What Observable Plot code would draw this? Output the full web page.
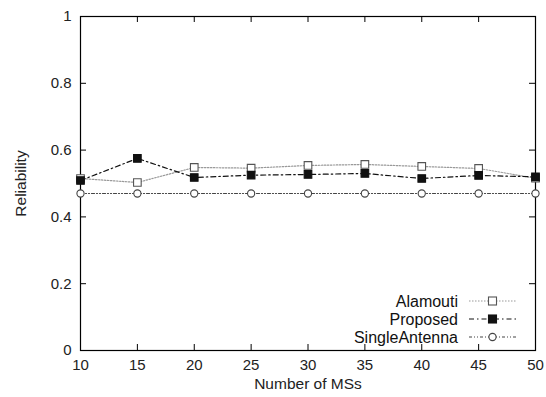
<!DOCTYPE html>
<html><head><meta charset="utf-8">
<script src="https://cdn.jsdelivr.net/npm/d3@7"></script>
<script src="https://cdn.jsdelivr.net/npm/@observablehq/plot@0.6"></script>
<style>body{margin:0;background:#fff;font-family:"Liberation Sans",Arial,sans-serif}</style>
</head><body><div id="chart"></div>
<script>
const ms = [10,15,20,25,30,35,40,45,50];
const alamouti = [0.515,0.503,0.548,0.546,0.554,0.557,0.551,0.545,0.516];
const proposed = [0.509,0.575,0.518,0.525,0.527,0.530,0.515,0.524,0.520];
const single = [0.470,0.470,0.470,0.470,0.470,0.470,0.470,0.470,0.470];
const seriesNames = ["Alamouti","Proposed","SingleAntenna"];
const xTicks = [10,15,20,25,30,35,40,45,50];
const yTicks = [0,0.2,0.4,0.6,0.8,1];

const styles = {
  Alamouti: {stroke:"#999", dash:"1.5,1.5", fill:"white", sym:"square", mstroke:"#555"},
  Proposed: {stroke:"#111", dash:"5,3,1.5,3", fill:"#111", sym:"square", mstroke:"#111"},
  SingleAntenna: {stroke:"#444", dash:"3,2,1,2,1,2", fill:"white", sym:"circle", mstroke:"#444"}
};
const vals = {Alamouti: alamouti, Proposed: proposed, SingleAntenna: single};
const data = seriesNames.flatMap(s => ms.map((m,i) => ({s, x:m, y:vals[s][i]})));

const W=546, H=397, mL=80, mR=11, mT=16, mB=47;
const pw = W-mL-mR, ph = H-mT-mB, tl = 6;

const marks = [
  Plot.frame({stroke:"#000", strokeWidth:1.2}),
  Plot.ruleX(xTicks, {x:d=>d, insetTop: ph-tl, stroke:"#000"}),
  Plot.ruleX(xTicks, {x:d=>d, insetBottom: ph-tl, stroke:"#000"}),
  Plot.ruleY(yTicks, {y:d=>d, insetRight: pw-tl, stroke:"#000"}),
  Plot.ruleY(yTicks, {y:d=>d, insetLeft: pw-tl, stroke:"#000"}),
  Plot.axisX(xTicks, {tickSize:0, tickPadding:9, fontSize:15, label:"Number of MSs", labelAnchor:"center", labelOffset:38, labelArrow:"none"}),
  Plot.axisY(yTicks, {tickSize:0, tickPadding:9, fontSize:15, label:"Reliability", labelAnchor:"center", labelOffset:66, labelArrow:"none", tickFormat:d=>String(d)}),
];
for (const s of seriesNames) {
  const st = styles[s];
  const d = data.filter(r=>r.s===s);
  marks.push(Plot.line(d, {x:"x", y:"y", stroke:st.stroke, strokeWidth:1.2, strokeDasharray:st.dash}));
}
for (const s of seriesNames) {
  const st = styles[s];
  const d = data.filter(r=>r.s===s);
  marks.push(Plot.dot(d, {x:"x", y:"y", symbol:st.sym, r: st.sym==="square"?4.3:3.6, fill:st.fill, stroke:st.mstroke, strokeWidth:1.1}));
}

const plot = Plot.plot({
  width:W, height:H, marginLeft:mL, marginRight:mR, marginTop:mT, marginBottom:mB,
  style:{fontFamily:'"Liberation Sans",Arial,sans-serif', fontSize:"15px", color:"#222", background:"white"},
  x:{domain:[10,50], label:"Number of MSs"},
  y:{domain:[0,1], label:"Reliability"},
  marks
});
document.getElementById("chart").appendChild(plot);
d3.select(plot).selectAll("text").filter(function(){ const t=this.textContent; return t==="Number of MSs"||t==="Reliability"; })
  .attr("font-size",15.5).style("font-size","15.5px");

// legend inside bottom-right
const svg = d3.select(plot);
const lg = svg.append("g").attr("font-family",'"Liberation Sans",Arial,sans-serif').attr("font-size",16);
const textX = 458, lx1 = 469, lx2 = 516, y0 = 301, dy = 18;
seriesNames.forEach((s,i) => {
  const st = styles[s], y = y0 + i*dy;
  lg.append("text").attr("x",textX).attr("y",y).attr("dy","0.35em").attr("text-anchor","end").attr("fill","#111").text(s);
  lg.append("line").attr("x1",lx1).attr("x2",lx2).attr("y1",y).attr("y2",y).attr("stroke",st.stroke).attr("stroke-width",1.2).attr("stroke-dasharray",st.dash);
  const cx = (lx1+lx2)/2;
  if (st.sym==="square") lg.append("rect").attr("x",cx-4).attr("y",y-4).attr("width",8).attr("height",8).attr("fill",st.fill).attr("stroke",st.mstroke).attr("stroke-width",1.1);
  else lg.append("circle").attr("cx",cx).attr("cy",y).attr("r",3.6).attr("fill",st.fill).attr("stroke",st.mstroke).attr("stroke-width",1.1);
});
</script></body></html>
